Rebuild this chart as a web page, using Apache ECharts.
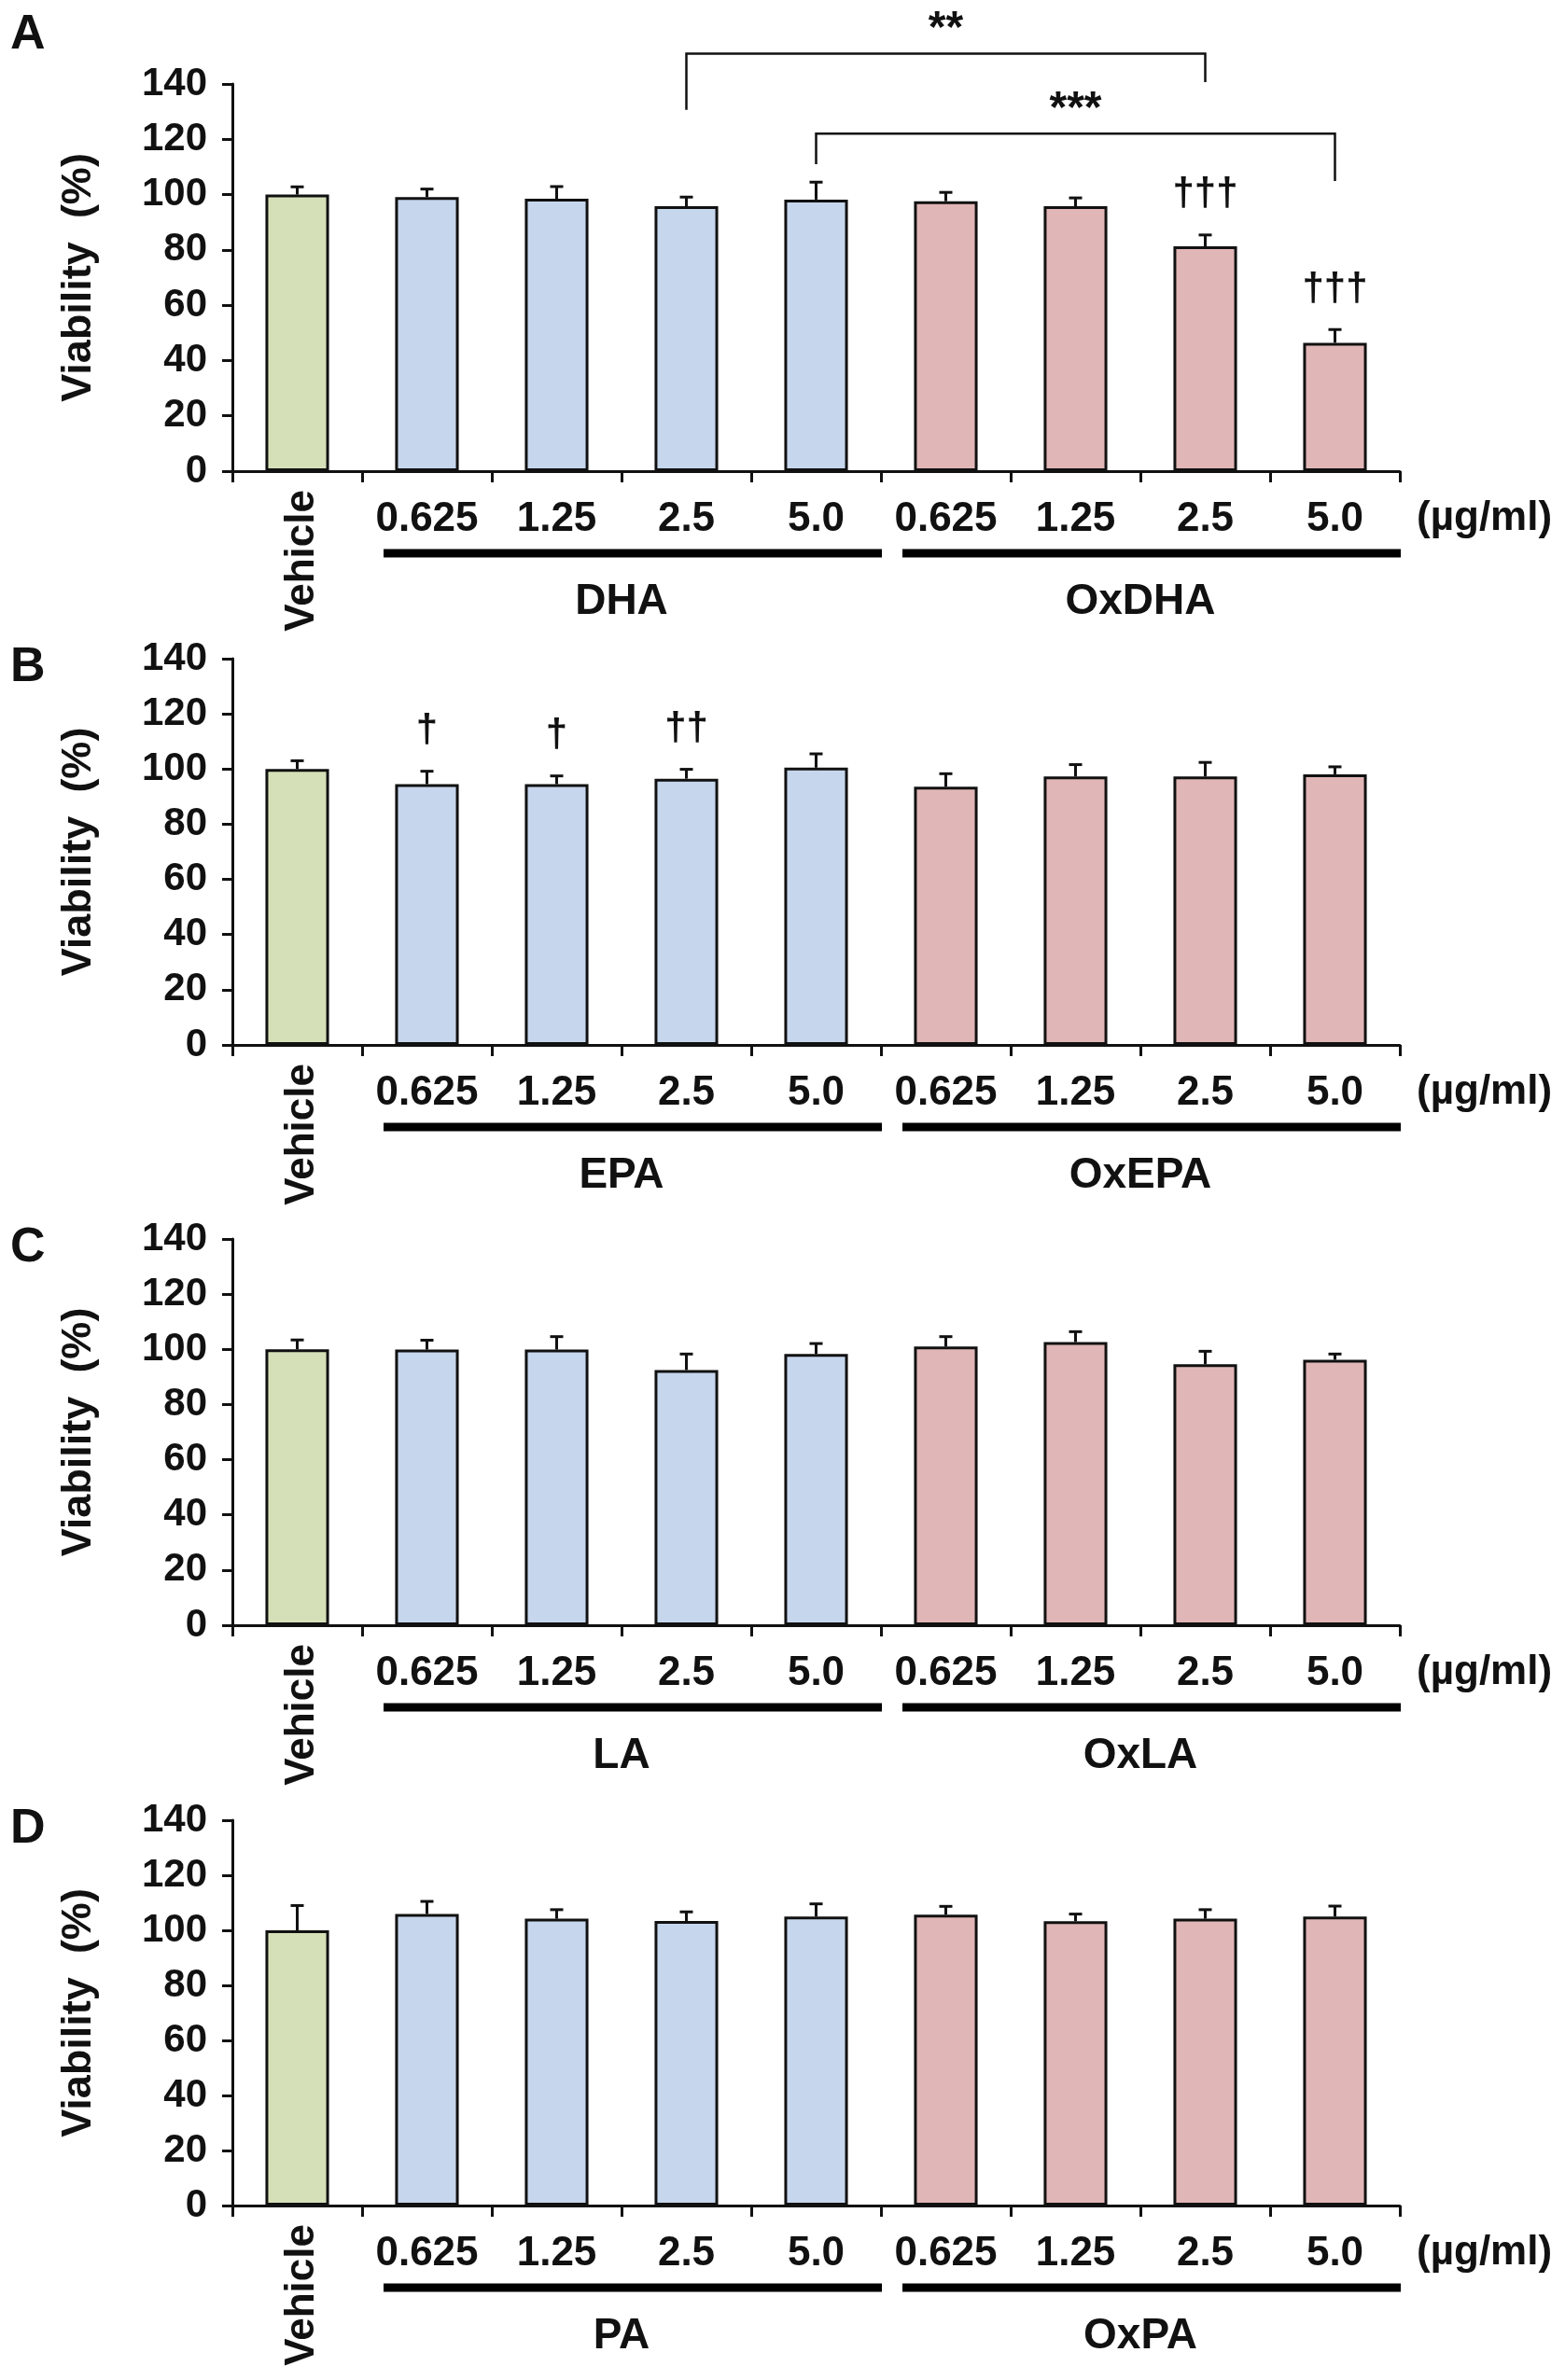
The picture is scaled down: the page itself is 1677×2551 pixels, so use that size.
<!DOCTYPE html>
<html><head><meta charset="utf-8">
<script src="https://cdn.jsdelivr.net/npm/echarts@6/dist/echarts.min.js"></script>
<style>html,body{margin:0;padding:0;background:#fff}#c{width:1677px;height:2551px}</style>
</head><body><div id="c"></div>
<script>
// ---------- data ----------
const categories = ['Vehicle', '0.625', '1.25', '2.5', '5.0', '0.625', '1.25', '2.5', '5.0'];
const panelLetters = ['A', 'B', 'C', 'D'];
const fattyAcids = ['DHA', 'EPA', 'LA', 'PA'];
const oxidizedFattyAcids = ['OxDHA', 'OxEPA', 'OxLA', 'OxPA'];
const unitLabel = '(µg/ml)';
const yAxisName = 'Viability  (%)';
const yMin = 0, yMax = 140, yInterval = 20;

const meanA = [100, 99.1, 98.5, 95.8, 98.2, 97.6, 95.8, 81.3, 46.4];
const errA  = [2.8, 2.9, 4.4, 3.3, 6.3, 3.2, 3.0, 4.1, 4.8];
const meanB = [100, 94.5, 94.5, 96.5, 100.5, 93.6, 97.3, 97.3, 98.1];
const errB  = [3.0, 4.7, 3.0, 3.4, 5.0, 4.7, 4.3, 5.1, 2.7];
const meanC = [100, 99.9, 99.9, 92.5, 98.3, 101.0, 102.6, 94.6, 96.2];
const errC  = [3.4, 3.4, 4.7, 5.8, 3.8, 3.6, 3.8, 4.7, 2.1];
const meanD = [100, 105.9, 104.2, 103.4, 105.0, 105.7, 103.3, 104.2, 105.0];
const errD  = [9.0, 4.6, 3.3, 3.3, 4.6, 3.0, 2.6, 3.3, 3.8];

// significance marks: [category index, symbol]
const daggersA = [[7, '†††'], [8, '†††']];
const daggersB = [[1, '†'], [2, '†'], [3, '††']];
const daggersC = [];
const daggersD = [];
// brackets: [from index, to index, bar level, left leg end, right leg end, symbol]
const bracketsA = [[3, 7, 151, 130.6, 140.7, '**'], [4, 8, 122, 111, 104.9, '***']];

// ---------- layout / style ----------
const means = [meanA, meanB, meanC, meanD];
const errs = [errA, errB, errC, errD];
const daggers = [daggersA, daggersB, daggersC, daggersD];
const brackets = [bracketsA, [], [], []];
const gridTops = [90, 706, 1328, 1951];
const gridHeights = [415, 414, 414, 413];
const FONT = '"Liberation Sans", Arial, Helvetica, sans-serif';
const TXT = '#111';
const colVehicle = '#d6e0b8', colFA = '#c6d6ec', colOx = '#e1b6b6';

function barColor(i) { return i === 0 ? colVehicle : (i <= 4 ? colFA : colOx); }

function errRender(params, api) {
  const i = api.value(0), m = api.value(1), e = api.value(2);
  const top = api.coord([i, m]);
  const hi = api.coord([i, m + e]);
  return {
    type: 'group', children: [
      { type: 'line', shape: { x1: top[0], y1: top[1], x2: hi[0], y2: hi[1] }, style: { stroke: '#111', lineWidth: 3 } },
      { type: 'line', shape: { x1: hi[0] - 7, y1: hi[1], x2: hi[0] + 7, y2: hi[1] }, style: { stroke: '#111', lineWidth: 3 } }
    ]
  };
}

function decoRender(p) {
  return function (params, api) {
    const bw = api.size([1, 0])[0];
    const axisY = api.coord([0, 0])[1];
    const ch = [];
    const txt = (x, y, text, size, align, va, rot) => ({
      type: 'text', x, y, rotation: rot || 0,
      style: { text, fontSize: size, fontWeight: 'bold', fontFamily: FONT, fill: TXT, align, verticalAlign: va }
    });
    // Vehicle (rotated)
    const v = api.coord([0, 0]);
    ch.push(txt(v[0] + 5, axisY + 20, categories[0], 44, 'right', 'middle', Math.PI / 2));
    // group bars and names
    [[1, 4, fattyAcids[p]], [5, 8, oxidizedFattyAcids[p]]].forEach(([a, b, name]) => {
      const ca = api.coord([a, 0])[0], cb = api.coord([b, 0])[0];
      const xa = ca - bw / 2 + 23, xb = cb + bw / 2 + 1;
      ch.push({ type: 'rect', shape: { x: xa, y: axisY + 88 - 4.5, width: xb - xa, height: 9 }, style: { fill: '#000' } });
      ch.push(txt((ca + cb) / 2, axisY + 140, name, 46, 'center', 'middle'));
    });
    // unit
    const last = api.coord([8, 0])[0] + bw / 2;
    ch.push(txt(last + 18, axisY + 51, unitLabel, 44, 'left', 'middle'));
    // daggers
    daggers[p].forEach(([i, s]) => {
      const c = api.coord([i, means[p][i] + errs[p][i]]);
      ch.push(txt(c[0], c[1] - 43, s, 42, 'center', 'middle'));
    });
    // brackets
    brackets[p].forEach(([a, b, lvl, la, rb, s]) => {
      const pa = api.coord([a, la]), pl = api.coord([a, lvl]), pr = api.coord([b, lvl]), pb = api.coord([b, rb]);
      ch.push({ type: 'polyline', shape: { points: [pa, pl, pr, pb] }, style: { stroke: '#111', lineWidth: 2.5, fill: null } });
      ch.push(txt((pl[0] + pr[0]) / 2, pl[1] - 2, s, 48, 'center', 'bottom'));
    });
    return { type: 'group', children: ch };
  };
}

const grid = [], xAxis = [], yAxis = [], series = [], title = [];
for (let p = 0; p < 4; p++) {
  grid.push({ left: 249, width: 1251, top: gridTops[p], height: gridHeights[p], containLabel: false });
  title.push({ text: panelLetters[p], left: 11, top: p === 0 ? 12 : gridTops[p] - 16, padding: 0,
    textStyle: { fontSize: 52, fontWeight: 'bold', fontFamily: FONT, color: TXT } });
  xAxis.push({
    type: 'category', gridIndex: p, data: categories,
    axisLine: { lineStyle: { color: '#111', width: 3 } },
    axisTick: { show: true, length: 12, interval: 0, lineStyle: { color: '#111', width: 3 } },
    axisLabel: { interval: 0, margin: 30, fontSize: 44, fontWeight: 'bold', fontFamily: FONT, color: TXT,
      formatter: (v, i) => (i === 0 ? '' : v) },
    splitLine: { show: false }
  });
  yAxis.push({
    type: 'value', gridIndex: p, min: yMin, max: yMax, interval: yInterval,
    name: yAxisName, nameLocation: 'middle', nameGap: 142,
    nameTextStyle: { fontSize: 45, fontWeight: 'bold', fontFamily: FONT, color: TXT },
    axisLine: { show: true, lineStyle: { color: '#111', width: 3 } },
    axisTick: { show: true, length: 11, lineStyle: { color: '#111', width: 3 } },
    axisLabel: { margin: 27, fontSize: 42, fontWeight: 'bold', fontFamily: FONT, color: TXT },
    splitLine: { show: false }
  });
  series.push({
    type: 'bar', xAxisIndex: p, yAxisIndex: p, barWidth: '49%',
    data: means[p].map((m, i) => ({ value: m, itemStyle: { color: barColor(i) } })),
    itemStyle: { borderColor: '#111', borderWidth: 3 }, silent: true, z: 2
  });
  series.push({
    type: 'custom', xAxisIndex: p, yAxisIndex: p, renderItem: errRender, z: 3, silent: true,
    encode: { x: 0, y: 1 },
    data: means[p].map((m, i) => [i, m, errs[p][i]])
  });
  series.push({
    type: 'custom', xAxisIndex: p, yAxisIndex: p, renderItem: decoRender(p), z: 4, silent: true, clip: false,
    encode: { x: 0, y: 1 }, data: [[0, 0]]
  });
}

const chart = echarts.init(document.getElementById('c'), null, { renderer: 'canvas' });
chart.setOption({ animation: false, backgroundColor: '#fff', title, grid, xAxis, yAxis, series });
</script>
</body></html>
